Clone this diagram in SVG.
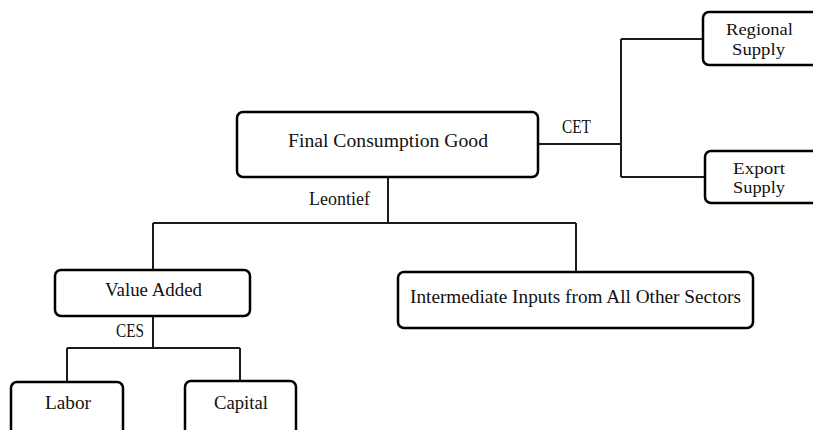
<svg xmlns="http://www.w3.org/2000/svg" width="813" height="430" viewBox="0 0 813 430">
<style>
.box{fill:#fff;stroke:#000;stroke-width:2.5}
.ln{fill:none;stroke:#1a1a1a;stroke-width:2}
text{font-family:"Liberation Serif","DejaVu Serif",serif;font-size:18px;fill:#111}
.sm{font-size:16px}
</style>
<rect width="813" height="430" fill="#fff"/>
<g id="connectors">
<path class="ln" d="M538 144H621M621 39V177M621 39H703M621 177H705"/>
<path class="ln" d="M388 177V223M153 223H576M153 223V270M576 223V272"/>
<path class="ln" d="M153 316V348M67 348H240M67 348V382M240 348V381"/>
<text x="562" y="133" textLength="29" lengthAdjust="spacingAndGlyphs">CET</text>
<text x="309" y="205" textLength="61" lengthAdjust="spacingAndGlyphs">Leontief</text>
<text x="116" y="337" textLength="28" lengthAdjust="spacingAndGlyphs">CES</text>
</g>
<g id="final">
<rect class="box" x="237" y="112" width="301" height="65" rx="6"/>
<text x="288" y="147" textLength="200" lengthAdjust="spacingAndGlyphs">Final Consumption Good</text>
</g>
<g id="regional">
<rect class="box" x="703" y="12" width="120" height="53" rx="6"/>
<text class="sm" x="726" y="35" textLength="67" lengthAdjust="spacingAndGlyphs">Regional</text>
<text class="sm" x="732" y="55" textLength="53" lengthAdjust="spacingAndGlyphs">Supply</text>
</g>
<g id="export">
<rect class="box" x="705" y="151" width="120" height="52" rx="6"/>
<text class="sm" x="733" y="174" textLength="52" lengthAdjust="spacingAndGlyphs">Export</text>
<text class="sm" x="733" y="193" textLength="52" lengthAdjust="spacingAndGlyphs">Supply</text>
</g>
<g id="valueadded">
<rect class="box" x="55" y="270" width="195" height="46" rx="6"/>
<text x="105" y="296" textLength="97" lengthAdjust="spacingAndGlyphs">Value Added</text>
</g>
<g id="intermediate">
<rect class="box" x="398" y="272" width="355" height="56" rx="6"/>
<text x="410" y="303" textLength="331" lengthAdjust="spacingAndGlyphs">Intermediate Inputs from All Other Sectors</text>
</g>
<g id="labor">
<rect class="box" x="11" y="382" width="112" height="60" rx="6"/>
<text x="45" y="409" textLength="46" lengthAdjust="spacingAndGlyphs">Labor</text>
</g>
<g id="capital">
<rect class="box" x="185" y="381" width="111" height="60" rx="6"/>
<text x="214" y="409" textLength="54" lengthAdjust="spacingAndGlyphs">Capital</text>
</g>
</svg>
